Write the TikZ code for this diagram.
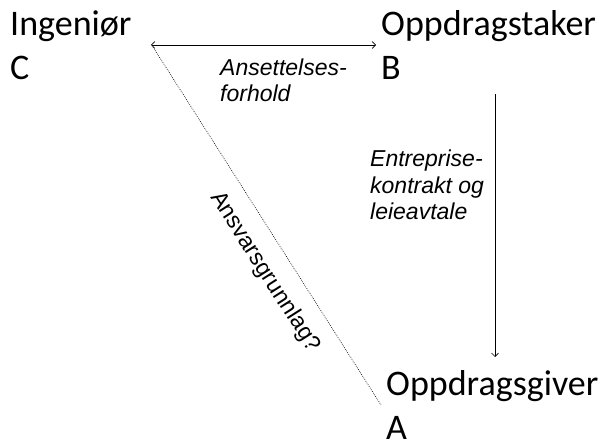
\documentclass[tikz,border=0pt]{standalone}
\usepackage{fontspec}
\setmainfont{Carlito}
\newfontfamily\arialfont{Liberation Sans}
\usetikzlibrary{arrows.meta}

\begin{document}
\begin{tikzpicture}[x=1bp, y=-1bp,
  >={Straight Barb[length=3.5bp, width=7bp]},
  % multi-line nodes: the base anchor sits on the last line
  party/.style={inner sep=0pt, align=left, anchor=base west,
    font=\fontsize{36bp}{44bp}\selectfont},
  relnote/.style={inner sep=0pt, align=left, anchor=base west,
    font=\arialfont\itshape\fontsize{23bp}{26.5bp}\selectfont},
  rel/.style={line width=0.6bp},
  doubt/.style={line width=0.6bp, dash pattern=on 0.8bp off 1.2bp}
]
\useasboundingbox (0,0) rectangle (607,440);

% the three parties
\node[party] (c) at (10,80) {Ingeniør\\C};
\node[party] (b) at (381,80) {Oppdragstaker\\B};
\node[party] (a) at (386,439) {Oppdragsgiver\\A};

% connector end points
\coordinate (cR) at (151,45);
\coordinate (bL) at (376,45);
\coordinate (bD) at (495,94);
\coordinate (aU) at (495,357);
\coordinate (cD) at (153,47);
\coordinate (aL) at (381,405);

% relations
\draw[rel, <->] (cR) -- (bL);
\draw[rel, ->] (bD) -- (aU);
\draw[doubt] (cD) -- (aL);

% relation labels
\node[relnote] (l1) at (220,102) {Ansettelses-\\forhold};
\node[relnote] (l2) at (370,220) {Entreprise-\\kontrakt og\\leieavtale};
\node[font=\arialfont\fontsize{23bp}{26bp}\selectfont, rotate=-57.5, inner sep=0pt]
  (l3) at (265,272) {Ansvarsgrunnlag?};
\end{tikzpicture}
\end{document}
